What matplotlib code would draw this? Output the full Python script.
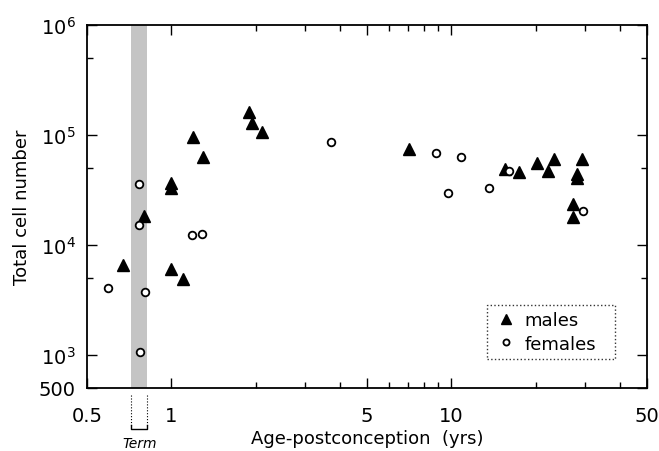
import matplotlib
matplotlib.use("Agg")
import matplotlib.pyplot as plt
import matplotlib.transforms as mtransforms

plt.rcParams["font.family"] = ["DejaVu Sans"]
plt.rcParams["mathtext.default"] = "regular"

# ages post-conception (yrs) and total cell numbers
male_age = [0.67, 0.80, 1.0, 1.0, 1.20, 1.30, 1.90, 1.94, 2.10, 1.0, 1.10,
            7.06, 15.5, 17.5, 20.3, 23.3, 22.2, 29.3, 28.2, 28.2, 27.3, 27.3]
male_cells = [6600, 18200, 36400, 33000, 95300, 63500, 160800, 127800, 105800,
              6050, 4900, 74600, 49100, 45800, 55700, 59900, 47400, 60500,
              44200, 40600, 23600, 17900]

female_age = [0.594, 0.765, 0.765, 0.806, 0.775, 1.19, 1.29, 3.71, 8.82,
              10.8, 9.76, 13.6, 16.1, 29.5]
female_cells = [4040, 35900, 15300, 3700, 1060, 12400, 12700, 86900, 68200,
                63500, 29700, 33000, 46800, 20200]

term_span = (0.72, 0.82)

x_ticks = [0.5, 1, 5, 10, 50]
x_ticklabels = ["0.5", "1", "5", "10", "50"]
x_minor = [2, 3, 4, 6, 7, 8, 9, 20, 30, 40]
y_ticks = [500, 1e3, 1e4, 1e5, 1e6]
y_ticklabels = ["500", "$10^3$", "$10^4$", "$10^5$", "$10^6$"]
y_minor = [5e3, 5e4, 5e5]

fig = plt.figure(figsize=(6.59, 4.52), dpi=100)
ax = fig.add_axes([0.132, 0.1394, 0.8498, 0.8031])

ax.axvspan(*term_span, facecolor="#c4c4c4", edgecolor="none", zorder=1)

ax.plot(male_age, male_cells, linestyle="none", marker="^", ms=8.5,
        color="black", label="males", zorder=3)
ax.plot(female_age, female_cells, linestyle="none", marker="o", ms=5.5,
        mfc="white", mec="black", mew=1.3, label="females", zorder=3)

ax.set_xscale("log")
ax.set_yscale("log")
ax.set_xlim(0.5, 50)
ax.set_ylim(500, 1e6)

ax.set_xticks(x_ticks)
ax.set_xticklabels(x_ticklabels)
ax.set_xticks(x_minor, minor=True)
ax.set_xticklabels([], minor=True)
ax.set_yticks(y_ticks)
ax.set_yticklabels(y_ticklabels)
ax.set_yticks(y_minor, minor=True)
ax.set_yticklabels([], minor=True)

ax.tick_params(which="both", direction="in", top=True, right=True,
               labelsize=14, width=1.0)
ax.tick_params(axis="x", which="major", length=7, pad=13)
ax.tick_params(axis="y", which="major", length=7, pad=8)
ax.tick_params(which="minor", length=4)
for sp in ax.spines.values():
    sp.set_linewidth(1.3)

ax.set_xlabel("Age-postconception  (yrs)", fontsize=13, labelpad=3)
ax.set_ylabel("Total cell number", fontsize=13, labelpad=6)

# "Term" bracket under the shaded band
trans = mtransforms.blended_transform_factory(ax.transData, ax.transAxes)
for xv in term_span:
    ax.plot([xv, xv], [-0.018, -0.108], transform=trans, color="black",
            linestyle=":", linewidth=0.8, clip_on=False)
ax.plot([term_span[0], term_span[0], term_span[1], term_span[1]],
        [-0.103, -0.113, -0.113, -0.103], transform=trans, color="black",
        linewidth=1.0, clip_on=False)
ax.text((term_span[0] * term_span[1]) ** 0.5, -0.152, "Term", transform=trans,
        ha="center", va="center", fontsize=10, style="italic")

leg = ax.legend(loc="lower left", bbox_to_anchor=(0.715, 0.08, 0.227, 0.163),
                mode="expand", fontsize=13, frameon=True, fancybox=False,
                handletextpad=0.3, borderaxespad=0, labelspacing=0.3,
                handlelength=1.4, markerscale=0.8, borderpad=0.35)
leg.get_frame().set_linestyle(":")
leg.get_frame().set_edgecolor("black")
leg.get_frame().set_linewidth(1.0)

fig.savefig("out.png", dpi=100)
